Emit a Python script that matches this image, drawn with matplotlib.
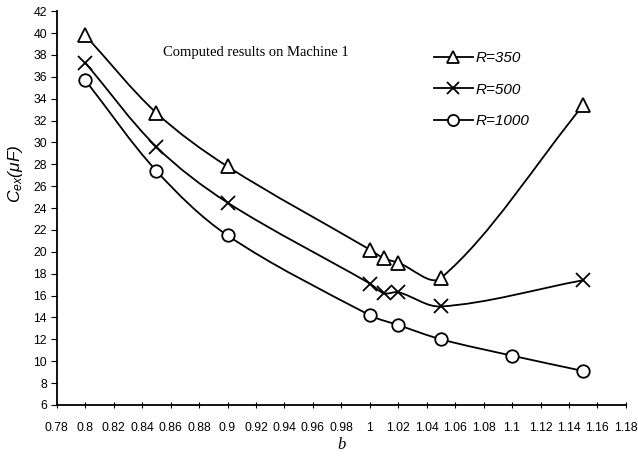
import numpy as np
import matplotlib
matplotlib.use("Agg")
import matplotlib.pyplot as plt
from matplotlib.path import Path
from matplotlib.patches import PathPatch
from matplotlib.lines import Line2D

# data
b_350 = [0.80, 0.85, 0.90, 1.00, 1.01, 1.02, 1.05, 1.15]
c_350 = [39.8, 32.7, 27.8, 20.2, 19.4, 19.0, 17.6, 33.4]
b_500 = [0.80, 0.85, 0.90, 1.00, 1.01, 1.02, 1.05, 1.15]
c_500 = [37.3, 29.6, 24.5, 17.1, 16.2, 16.3, 15.0, 17.4]
b_1000 = [0.80, 0.85, 0.90, 1.00, 1.02, 1.05, 1.10, 1.15]
c_1000 = [35.7, 27.4, 21.5, 14.2, 13.3, 12.0, 10.5, 9.1]

labels = ["R=350", "R=500", "R=1000"]
markers = ["^", "x", "o"]

x_ticks = [0.78, 0.8, 0.82, 0.84, 0.86, 0.88, 0.9, 0.92, 0.94, 0.96, 0.98,
           1, 1.02, 1.04, 1.06, 1.08, 1.1, 1.12, 1.14, 1.16, 1.18]
y_ticks = list(range(6, 43, 2))

plt.rcParams["mathtext.fontset"] = "custom"
plt.rcParams["mathtext.it"] = "Liberation Sans:italic"
plt.rcParams["mathtext.rm"] = "Liberation Sans:italic"


def smooth_path(ax, xs, ys):
    # smoothed line through the points, built in screen space
    p = ax.transData.transform(np.column_stack([xs, ys]))
    n = len(p)
    verts = [p[0]]
    codes = [Path.MOVETO]
    d = [np.hypot(*(p[i + 1] - p[i])) for i in range(n - 1)]
    for i in range(n - 1):
        p1, p2 = p[i], p[i + 1]
        if i > 0:
            t1 = (p2 - p[i - 1]) * d[i] / (d[i - 1] + d[i])
        else:
            t1 = p2 - p1
        if i + 2 < n:
            t2 = (p[i + 2] - p1) * d[i] / (d[i] + d[i + 1])
        else:
            t2 = p2 - p1
        c1 = p1 + t1 / 3.0
        c2 = p2 - t2 / 3.0
        verts += [c1, c2, p2]
        codes += [Path.CURVE4] * 3
    verts = ax.transData.inverted().transform(np.array(verts))
    return Path(verts, codes)


fig = plt.figure(figsize=(6.38, 4.67), dpi=100)
ax = fig.add_axes([0.089, 0.133, 0.892, 0.843])
ax.set_xlim(0.78, 1.18)
ax.set_ylim(6, 42)

tick_font = {"family": "Liberation Sans", "size": 8.8}

series = [(b_350, c_350), (b_500, c_500), (b_1000, c_1000)]
handles = []
for (xs, ys), lab, mk in zip(series, labels, markers):
    ax.add_patch(PathPatch(smooth_path(ax, xs, ys), facecolor="none",
                           edgecolor="black", lw=1.3))
    ms = 10 if mk != "o" else 9
    ax.plot(xs, ys, linestyle="none", marker=mk, markersize=ms,
            markerfacecolor="white", markeredgecolor="black",
            markeredgewidth=1.3)
    handles.append(Line2D([0], [0], color="black", lw=1.3, marker=mk,
                          markersize=8, markerfacecolor="white",
                          markeredgecolor="black", markeredgewidth=1.3))

ax.set_xticks(x_ticks)
ax.set_xticklabels([f"{v:g}" for v in x_ticks], fontdict=tick_font)
ax.set_yticks(y_ticks)
ax.set_yticklabels([str(v) for v in y_ticks], fontdict=tick_font)
ax.tick_params(axis="x", direction="inout", length=5, pad=10)
ax.tick_params(axis="y", direction="out", length=4, pad=3)
ax.spines["top"].set_visible(False)
ax.spines["right"].set_visible(False)
ax.spines["left"].set_linewidth(1.3)
ax.spines["bottom"].set_linewidth(1.3)

ax.set_xlabel("b", fontfamily="Liberation Serif", fontstyle="italic",
              fontsize=12, labelpad=2)
ax.set_ylabel(r"$C_{ex}(\mu F)$", fontsize=12.5)
ax.yaxis.set_label_coords(-0.055, 0.586)

ax.text(0.35, 0.896, "Computed results on Machine 1", transform=ax.transAxes,
        fontfamily="Liberation Serif", fontsize=10.5, ha="center", va="center")

leg = ax.legend(handles, labels, loc="upper left", bbox_to_anchor=(0.638, 0.934),
                frameon=False, handlelength=2.55, handletextpad=0.2,
                labelspacing=1.15,
                prop={"family": "Liberation Sans", "style": "italic", "size": 11})

fig.savefig("out.png", dpi=100)
